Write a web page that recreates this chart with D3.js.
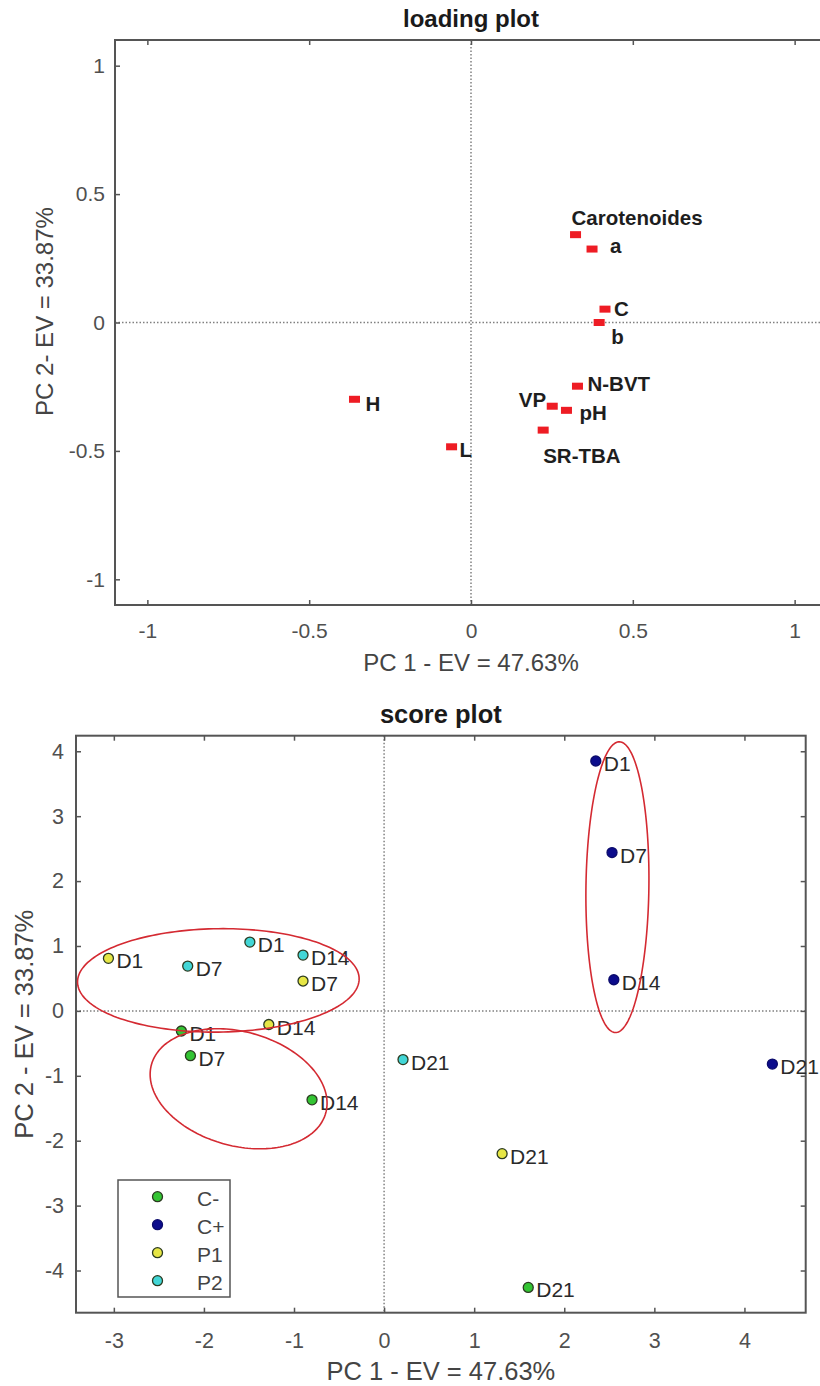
<!DOCTYPE html>
<html>
<head>
<meta charset="utf-8">
<script src="https://cdn.jsdelivr.net/npm/d3@7"></script>
<style>
body{margin:0;background:#fff;}
svg{display:block;font-family:"Liberation Sans",Arial,sans-serif;}
</style>
</head>
<body>
<div id="chart"></div>
<script>
// loading plot values
var variables=["Carotenoides","a","C","b","N-BVT","VP","pH","SR-TBA","L","H"];
var pc1Loadings=[0.323,0.374,0.414,0.396,0.329,0.251,0.295,0.223,-0.060,-0.360];
var pc2Loadings=[0.342,0.286,0.052,0.000,-0.248,-0.326,-0.342,-0.419,-0.484,-0.299];
var loadingTicks=[-1,-0.5,0,0.5,1];

// score plot values
var groups=["C-","C+","P1","P2"];
var days=["D1","D7","D14","D21"];
var cMinusPC1=[-2.25,-2.15,-0.80,1.60], cMinusPC2=[-0.31,-0.69,-1.37,-4.26];
var cPlusPC1=[2.35,2.53,2.55,4.31],    cPlusPC2=[3.85,2.44,0.48,-0.82];
var p1PC1=[-3.06,-0.90,-1.28,1.31],    p1PC2=[0.81,0.46,-0.21,-2.20];
var p2PC1=[-1.49,-2.18,-0.90,0.21],    p2PC2=[1.06,0.69,0.86,-0.75];
var scoreXTicks=[-3,-2,-1,0,1,2,3,4];
var scoreYTicks=[-4,-3,-2,-1,0,1,2,3,4];

// cluster ellipses (centre, half ranges, correlation) in score units
var ellipseCx=[-1.84,-1.615,2.59];
var ellipseCy=[0.47,-1.20,1.906];
var ellipseHx=[1.563,0.982,0.35];
var ellipseHy=[0.797,0.925,2.24];
var ellipseRho=[0.03,-0.24,0.06];

// layout / style
var groupColors={"C-":"#33c433","C+":"#0c0c8c","P1":"#e6e645","P2":"#42d6d6"};
var loadingLabelDx=[-4,18,9,12,10,-6,13,0,8,11];
var loadingLabelDy=[-10,4,7,21,5,1,10,33,10.5,12];
var loadingLabelAnchor=["start","start","start","start","start","end","start","start","start","start"];

var W=820,H=1386;
var svg=d3.select("#chart").append("svg")
    .attr("width",W)
    .attr("height",H);

function fmt(d){return String(d);}

function frame(g,x,y,w,h,xt,yt,padX,padY,fs){
    var gx=g.append("g").attr("transform","translate(0,"+h+")")
        .call(d3.axisBottom(x).tickValues(xt).tickFormat(fmt).tickSize(-5).tickPadding(padX));
    var gxt=g.append("g")
        .call(d3.axisTop(x).tickValues(xt).tickFormat("").tickSize(-5));
    var gy=g.append("g")
        .call(d3.axisLeft(y).tickValues(yt).tickFormat(fmt).tickSize(-5).tickPadding(padY));
    var gyr=g.append("g").attr("transform","translate("+w+",0)")
        .call(d3.axisRight(y).tickValues(yt).tickFormat("").tickSize(-5));
    [gx,gxt,gy,gyr].forEach(function(a){
        a.select(".domain").remove();
        a.selectAll(".tick line").attr("stroke","#555").attr("stroke-width",1.5);
        a.selectAll(".tick text").attr("fill","#505050").style("font-size",fs+"px");
    });
    g.append("rect")
        .attr("width",w).attr("height",h)
        .attr("fill","none").attr("stroke","#555").attr("stroke-width",2);
}

function zeroLines(g,x,y,w,h){
    g.append("line").attr("x1",x(0)).attr("x2",x(0)).attr("y1",0).attr("y2",h)
        .attr("stroke","#808080").attr("stroke-width",1.5).attr("stroke-dasharray","1.5,2");
    g.append("line").attr("x1",0).attr("x2",w).attr("y1",y(0)).attr("y2",y(0))
        .attr("stroke","#808080").attr("stroke-width",1.5).attr("stroke-dasharray","1.5,2");
}

function titles(g,w,h,title,xl,yl,tY,xlY,ylX,ylShift,fs){
    g.append("text").attr("x",w/2).attr("y",tY).attr("text-anchor","middle")
        .attr("font-weight","bold").attr("fill","#1a1a1a").style("font-size",fs+"px").text(title);
    g.append("text").attr("x",w/2).attr("y",xlY).attr("text-anchor","middle")
        .attr("fill","#444").style("font-size",fs+"px").text(xl);
    g.append("text").attr("transform","translate("+ylX+","+(h/2+ylShift)+") rotate(-90)")
        .attr("text-anchor","middle").attr("fill","#444").style("font-size",fs+"px").text(yl);
}

// ---------- loading plot ----------
var L={left:115,top:40,w:712,h:565};
var lx=d3.scaleLinear().domain([-1.1,1.1]).range([0,L.w]);
var ly=d3.scaleLinear().domain([-1.1,1.1]).range([L.h,0]);
var gl=svg.append("g").attr("transform","translate("+L.left+","+L.top+")");

zeroLines(gl,lx,ly,L.w,L.h);
frame(gl,lx,ly,L.w,L.h,loadingTicks,loadingTicks,18,10,21);
titles(gl,L.w,L.h,"loading plot","PC 1 - EV = 47.63%","PC 2- EV = 33.87%",-13,631,-62,-11,24);

var loadingData=variables.map(function(v,i){
    return {name:v,x:pc1Loadings[i],y:pc2Loadings[i],i:i};
});

gl.selectAll(".lmark").data(loadingData).enter().append("rect")
    .attr("class","lmark")
    .attr("x",function(d){return lx(d.x)-5.5;})
    .attr("y",function(d){return ly(d.y)-3.5;})
    .attr("width",11).attr("height",7)
    .attr("fill","#ee1c24");

gl.selectAll(".llabel").data(loadingData).enter().append("text")
    .attr("class","llabel")
    .attr("x",function(d){return lx(d.x)+loadingLabelDx[d.i];})
    .attr("y",function(d){return ly(d.y)+loadingLabelDy[d.i];})
    .attr("text-anchor",function(d){return loadingLabelAnchor[d.i];})
    .attr("font-weight","bold").attr("fill","#1e1e1e").style("font-size","20.5px")
    .text(function(d){return d.name;});

// ---------- score plot ----------
var S={left:76,top:735.7,w:729.7,h:577};
var sx=d3.scaleLinear().domain([-3.42,4.68]).range([0,S.w]);
var sy=d3.scaleLinear().domain([-4.65,4.24]).range([S.h,0]);
var gs=svg.append("g").attr("transform","translate("+S.left+","+S.top+")");

zeroLines(gs,sx,sy,S.w,S.h);
frame(gs,sx,sy,S.w,S.h,scoreXTicks,scoreYTicks,20,12,21.5);
titles(gs,S.w,S.h,"score plot","PC 1 - EV = 47.63%","PC 2 - EV = 33.87%",-13,644,-43,0,25.5);

var scorePC1={"C-":cMinusPC1,"C+":cPlusPC1,"P1":p1PC1,"P2":p2PC1};
var scorePC2={"C-":cMinusPC2,"C+":cPlusPC2,"P1":p1PC2,"P2":p2PC2};
var scoreData=[];
groups.forEach(function(gname){
    days.forEach(function(day,j){
        scoreData.push({group:gname,day:day,x:scorePC1[gname][j],y:scorePC2[gname][j]});
    });
});

gs.selectAll(".smark").data(scoreData).enter().append("circle")
    .attr("class","smark")
    .attr("cx",function(d){return sx(d.x);})
    .attr("cy",function(d){return sy(d.y);})
    .attr("r",5)
    .attr("fill",function(d){return groupColors[d.group];})
    .attr("stroke",function(d){return d.group==="C+"?"#0c0c6c":"#2b3a20";})
    .attr("stroke-width",1.3);

gs.selectAll(".slabel").data(scoreData).enter().append("text")
    .attr("class","slabel")
    .attr("x",function(d){return sx(d.x)+8;})
    .attr("y",function(d){return sy(d.y)+10;})
    .attr("fill","#2a2a2a").style("font-size","21px")
    .text(function(d){return d.day;});

// ellipses
var ellipseLine=d3.line().curve(d3.curveLinearClosed);
ellipseCx.forEach(function(cx,k){
    var pts=d3.range(0,2*Math.PI,Math.PI/90).map(function(t){
        var ex=cx+ellipseHx[k]*Math.cos(t);
        var ey=ellipseCy[k]+ellipseHy[k]*(ellipseRho[k]*Math.cos(t)+Math.sqrt(1-ellipseRho[k]*ellipseRho[k])*Math.sin(t));
        return [sx(ex),sy(ey)];
    });
    gs.append("path").attr("d",ellipseLine(pts))
        .attr("fill","none").attr("stroke","#d42a32").attr("stroke-width",1.6);
});

// legend
var leg=gs.append("g").attr("transform","translate(42,"+(S.h-132.7)+")");
leg.append("rect").attr("width",112).attr("height",117)
    .attr("fill","#fff").attr("stroke","#555").attr("stroke-width",1.5);
var items=leg.selectAll(".item").data(groups).enter().append("g")
    .attr("transform",function(d,i){return "translate(0,"+(16.7+i*28)+")";});
items.append("circle").attr("cx",39.5).attr("r",5)
    .attr("fill",function(d){return groupColors[d];})
    .attr("stroke",function(d){return d==="C+"?"#0c0c6c":"#2b3a20";})
    .attr("stroke-width",1.3);
items.append("text").attr("x",79).attr("y",9)
    .attr("fill","#444").style("font-size","21px")
    .text(function(d){return d;});
</script>
</body>
</html>
